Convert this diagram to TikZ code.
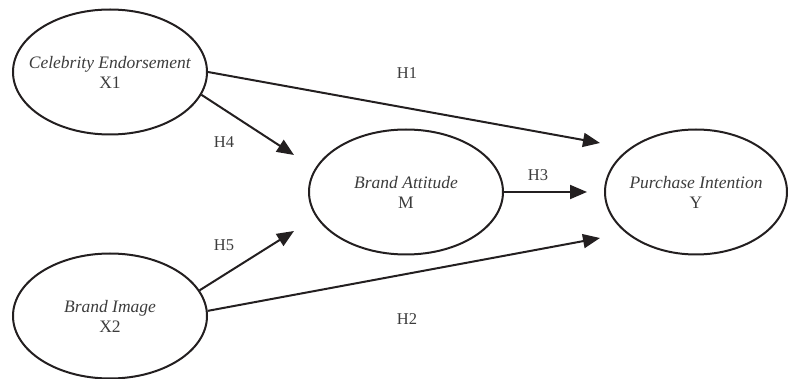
\documentclass[tikz,border=0pt]{standalone}
\usepackage{fontspec}
\setmainfont{Liberation Serif}
\usetikzlibrary{shapes.geometric,arrows.meta}
\definecolor{linecol}{HTML}{231F20}
\definecolor{textcol}{HTML}{3C3C3C}
\tikzset{
  construct/.style={ellipse, draw=linecol, line width=2pt, inner xsep=-30pt, inner ysep=0pt,
    minimum width=194pt, minimum height=125pt, align=center, text=textcol,
    font=\fontsize{17.5}{20}\selectfont},
  path/.style={draw=linecol, line width=2pt, -{Triangle[length=17pt,width=14pt]}},
  hyp/.style={text=textcol, font=\fontsize{16.5}{19}\selectfont}
}
\begin{document}
\begin{tikzpicture}[x=1pt,y=-1pt]
\useasboundingbox (0,0) rectangle (788,379);
\node[construct] (X1) at (110,72) {\textit{Celebrity Endorsement}\\X1};
\node[construct] (X2) at (110,316) {\textit{Brand Image}\\X2};
\node[construct] (M) at (406,192) {\textit{Brand Attitude}\\M};
\node[construct, minimum width=182pt] (Y) at (696,192) {\textit{Purchase Intention}\\Y};
\coordinate (e1) at (600,143);
\coordinate (e4) at (294,155);
\coordinate (e3) at (587,192);
\coordinate (e5) at (294,231);
\coordinate (e2) at (600,238);
\draw[path] (X1.east) -- (e1);
\draw[path] (X1.-14) -- (e4);
\draw[path] (M.east) -- (e3);
\draw[path] (X2.16) -- (e5);
\draw[path] (X2.3) -- (e2);
\node[hyp] (h1) at (407,73) {H1};
\node[hyp] (h4) at (224,142) {H4};
\node[hyp] (h3) at (538,175) {H3};
\node[hyp] (h5) at (224,245) {H5};
\node[hyp] (h2) at (407,319) {H2};
\end{tikzpicture}
\end{document}
